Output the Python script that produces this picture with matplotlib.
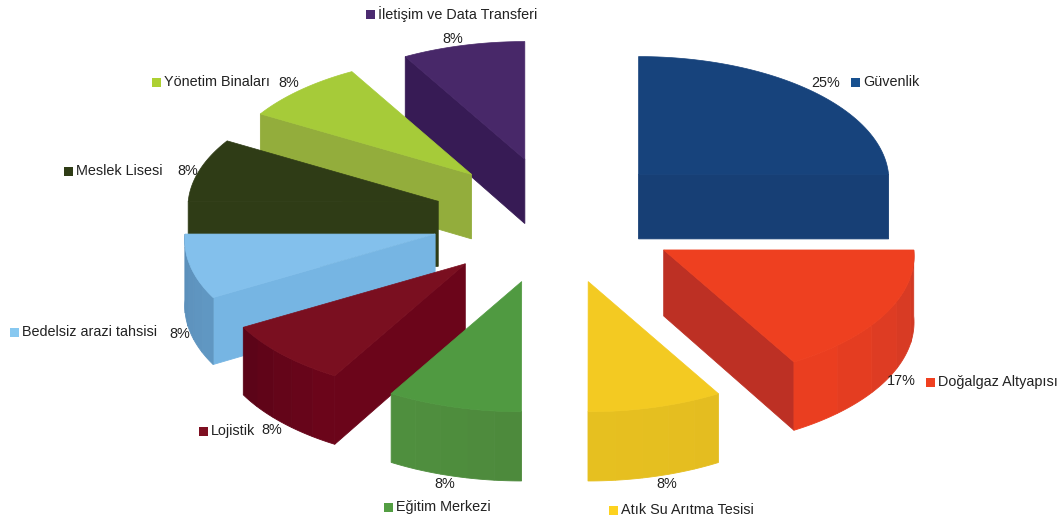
import numpy as np
import matplotlib
matplotlib.use('Agg')
import matplotlib.pyplot as plt
from matplotlib.patches import Polygon, Rectangle

categories = ['Güvenlik', 'Doğalgaz Altyapısı', 'Atık Su Arıtma Tesisi', 'Eğitim Merkezi', 'Lojistik',
              'Bedelsiz arazi tahsisi', 'Meslek Lisesi', 'Yönetim Binaları', 'İletişim ve Data Transferi']
shares = [25.0, 16.67, 8.33, 8.33, 8.33, 8.33, 8.33, 8.33, 8.33]

top_colors = ['#17437c', '#ee4020', '#f3ca22', '#509a41', '#7a0f20', '#83c0ec', '#2f3c16', '#a6cb39', '#482869']
side_colors = ['#173f75', '#bd3024', '#e4bd20', '#4d8a3c', '#6b051a', '#76b5e3', '#2f3c16', '#93ad3c', '#371b55']
wall_start = ['#173f75', '#d23a25', '#e4bd20', '#4d8a3c', '#6b051a', '#6097c2', '#2f3c16', '#93ad3c', '#371b55']
wall_end = ['#1a4580', '#ea3e20', '#e6c020', '#4f8f3e', '#5c0418', '#5b8fba', '#2f3c16', '#93ad3c', '#371b55']
key_colors = ['#17508f', '#f04020', '#fdd21f', '#539e43', '#7e0f21', '#87c8f0', '#2f3c16', '#add032', '#4b2a70']

# label positions: key square x, y, then percent label x, y
key_pos = [(855, 82), (930, 382), (613, 510), (388, 507), (203, 431), (14, 332), (68, 171), (156, 82), (370, 14)]
pct_pos = [(826, 83), (901, 381), (667, 484), (445, 484), (272, 430), (180, 334), (188, 171), (289, 83), (453, 39)]

cx, cy = 555, 217.5
rx, ry = 250, 124
explode_x, explode_y = 0.49, 0.51
persp = 0.05


def depth(y):
    return 63 + 0.02 * (y - 100)


def blend(c1, c2, t):
    a = np.array(matplotlib.colors.to_rgb(c1))
    b = np.array(matplotlib.colors.to_rgb(c2))
    return a + (b - a) * t


def rim(ax0, ay0, t):
    s = 1 - persp * np.cos(t)
    return ax0 + rx * s * np.sin(t), ay0 - ry * s * np.cos(t)


def wall(ax, pts, color, z):
    low = [(x, y + depth(y)) for x, y in pts]
    ax.add_patch(Polygon(pts + low[::-1], closed=True, fc=color, ec=color, lw=0.6, zorder=z))


plt.rcParams['font.family'] = ['Liberation Sans', 'DejaVu Sans']
fig = plt.figure(figsize=(10.59, 5.25), dpi=100)
ax = fig.add_axes([0, 0, 1, 1])
ax.set_xlim(0, 1059)
ax.set_ylim(525, 0)
ax.axis('off')

edges = np.cumsum([0] + shares) / sum(shares) * 2 * np.pi
mids = (edges[:-1] + edges[1:]) / 2
scale = 1 - persp * np.cos(mids)
apex_x = cx + rx * explode_x * np.sin(mids) * scale
apex_y = cy - ry * explode_y * np.cos(mids) * scale

# back slices first so the front ones cover them
order = np.argsort(apex_y)
for n, i in enumerate(order):
    z = 2 + n
    a = (apex_x[i], apex_y[i])
    ts = np.linspace(edges[i], edges[i + 1], 61)
    arc = [rim(a[0], a[1], t) for t in ts]

    # radial faces, only those turned to the viewer
    if arc[0][0] - a[0] < -1:
        wall(ax, [a, arc[0]], side_colors[i], z)
    if arc[-1][0] - a[0] > 1:
        wall(ax, [a, arc[-1]], side_colors[i], z)

    # outer wall in a few flat bands, 12 points each
    for j in range(0, 60, 12):
        if np.cos(ts[j + 6]) < 0.05:
            col = blend(wall_start[i], wall_end[i], j / 48)
            wall(ax, arc[j:j + 13], col, z)

    # top face
    ax.add_patch(Polygon([a] + arc, closed=True, fc=top_colors[i], ec=top_colors[i], lw=0.5, zorder=z + 0.5))

for i, name in enumerate(categories):
    kx, ky = key_pos[i]
    ax.add_patch(Rectangle((kx - 4.5, ky - 4.5), 9, 9, fc=key_colors[i], ec='none', zorder=30))
    ax.text(kx + 8, ky, name, fontsize=10.4, color='#222222', va='center', ha='left', zorder=31)
    ax.text(pct_pos[i][0], pct_pos[i][1], f'{shares[i]:.0f}%', fontsize=10.4, color='#222222',
            va='center', ha='center', zorder=31)

fig.savefig('out.png', dpi=100)
